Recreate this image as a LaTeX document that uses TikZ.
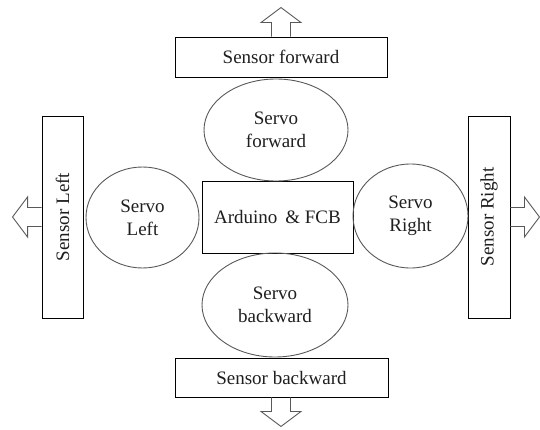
\documentclass[tikz,border=0pt]{standalone}
\usepackage{fontspec}
\setmainfont{Liberation Serif}
\usetikzlibrary{shapes.geometric}
\begin{document}
\begin{tikzpicture}[x=1pt,y=1pt,
  txt/.style={font=\fontsize{19}{23}\selectfont, text=black!88, align=center, inner sep=0pt},
  sbox/.style={txt, draw=black, line width=0.9pt, rectangle},
  servo/.style={txt, draw=black!65, line width=0.9pt, ellipse},
  barrow/.pic={\draw[draw=black!65, line width=0.9pt, line join=miter]
     (-9.5,0) -- (-9.5,14) -- (-20,14) -- (0,29) -- (20,14) -- (9.5,14) -- (9.5,0);}
]
\useasboundingbox (0,0) rectangle (540,429);
\fill[white] (0,0) rectangle (540,429);

\node[sbox, minimum width=212pt, minimum height=40pt] (sf) at (281,372) {Sensor forward};
\node[sbox, minimum width=213pt, minimum height=39pt] (sb) at (281.5,51.5) {Sensor backward};
\node[sbox, minimum width=202pt, minimum height=41pt, rotate=90] (sl) at (62.5,212) {Sensor Left};
\node[sbox, minimum width=202pt, minimum height=42pt, rotate=90] (sr) at (489,212) {Sensor Right};
\node[sbox, minimum width=151pt, minimum height=72pt] (ard) at (277.5,212) {Arduino \,\& FCB};

\node[servo, minimum width=144pt, minimum height=102pt] (svf) at (276,299) {Servo\\forward};
\node[servo, minimum width=146pt, minimum height=104pt] (svb) at (275,124) {Servo\\backward};
\node[servo, minimum width=113pt, minimum height=101pt] (svl) at (142.5,211.5) {Servo\\Left};
\node[servo, minimum width=115pt, minimum height=104pt] (svr) at (410.5,213) {Servo\\Right};

\pic at (sf.north) {barrow};
\pic[rotate=180] at ([xshift=-0.5pt]sb.south) {barrow};
\pic[rotate=90] at (sl.north) {barrow};
\pic[rotate=-90] at (sr.south) {barrow};
\end{tikzpicture}
\end{document}
